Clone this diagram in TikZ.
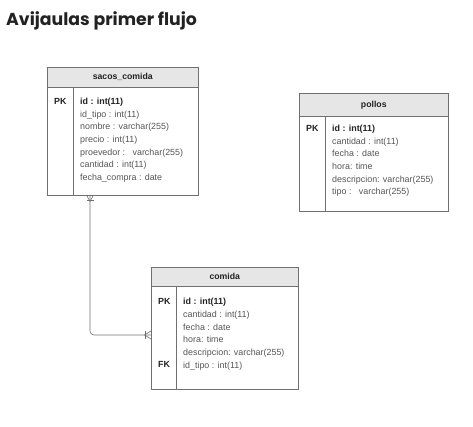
\documentclass[tikz,border=0pt]{standalone}
\usepackage{fontspec}
\setmainfont{Liberation Sans}
\newfontfamily\titlefont{Poppins}
\definecolor{hdrfill}{HTML}{E6E6E6}
\definecolor{edge}{HTML}{707070}
\definecolor{rowtxt}{HTML}{555555}
\definecolor{keytxt}{HTML}{222222}
\begin{document}
\begin{tikzpicture}[x=1pt,y=1pt,
  hdr/.style={draw=edge,fill=hdrfill,line width=0.6pt,inner sep=0pt,anchor=north west,font=\fontsize{8.7}{10}\selectfont\bfseries,text=keytxt},
  tbody/.style={draw=edge,line width=0.6pt,inner sep=0pt,anchor=north west},
  rowtext/.style={anchor=north west,inner sep=0pt,align=left,font=\fontsize{8.9}{12.65}\selectfont,text=rowtxt},
  keytext/.style={anchor=north west,inner sep=0pt,align=left,font=\fontsize{8.9}{12.65}\selectfont\bfseries,text=keytxt},
  divider/.style={draw=edge,line width=0.9pt},
  conn/.style={draw=edge,line width=0.6pt}]
\useasboundingbox (0,0) rectangle (473,-427);
\node[anchor=west,inner sep=0pt,font=\titlefont\fontsize{17.3}{19}\selectfont\bfseries,text=keytxt] (title) at (6,-21) {Avijaulas primer flujo};

% sacos_comida
\node[tbody,minimum width=151pt,minimum height=108pt] (scb) at (47,-87) {};
\node[hdr,minimum width=151pt,minimum height=20pt] (sch) at (47,-67) {sacos\_comida};
\draw[divider] (73,-87) coordinate (scd1) -- (73,-195) coordinate (scd2);
\node[keytext] (scpk) at (54,-98) {PK};
\node[keytext] (scid) at (80,-98) {id : int(11)};
\node[rowtext] (scrows) at (80,-110.6) {id\_tipo : int(11)\\nombre : varchar(255)\\precio : int(11)\\proevedor :\ \ \ varchar(255)\\cantidad : int(11)\\fecha\_compra : date};

% pollos
\node[tbody,minimum width=149pt,minimum height=95pt] (pob) at (299,-116) {};
\node[hdr,minimum width=149pt,minimum height=23pt] (poh) at (299,-93) {pollos};
\draw[divider] (325,-116) coordinate (pod1) -- (325,-211) coordinate (pod2);
\node[keytext] (popk) at (306,-125) {PK};
\node[keytext] (poid) at (332,-125) {id : int(11)};
\node[rowtext] (porows) at (332,-137.6) {cantidad : int(11)\\fecha : date\\hora: time\\descripcion: varchar(255)\\tipo :\ \ \ varchar(255)};

% comida
\node[tbody,minimum width=147pt,minimum height=103pt] (cmb) at (151,-286) {};
\node[hdr,minimum width=147pt,minimum height=19pt] (cmh) at (151,-267) {comida};
\draw[divider] (176,-286) coordinate (cmd1) -- (176,-389) coordinate (cmd2);
\node[keytext] (cmpk) at (158,-298.3) {PK};
\node[keytext] (cmid) at (183,-298.3) {id : int(11)};
\node[rowtext] (cmrows) at (183,-310.9) {cantidad : int(11)\\fecha : date\\hora: time\\descripcion: varchar(255)\\id\_tipo : int(11)};
\node[keytext] (cmfk) at (158,-361) {FK};

% connector
\coordinate (cs) at (90,-195);
\coordinate (ce) at (151,-335);
\draw[conn,rounded corners=4pt] (cs) |- (ce);
% crow's foot at sacos_comida
\draw[conn] (86.5,-195) -- (90,-201.5) -- (93.5,-195);
\draw[conn] (86.5,-200) -- (93.5,-200);
% crow's foot at comida
\draw[conn] (151,-331) -- (144.5,-335) -- (151,-339);
\draw[conn] (145,-331) -- (145,-339);
\end{tikzpicture}
\end{document}
